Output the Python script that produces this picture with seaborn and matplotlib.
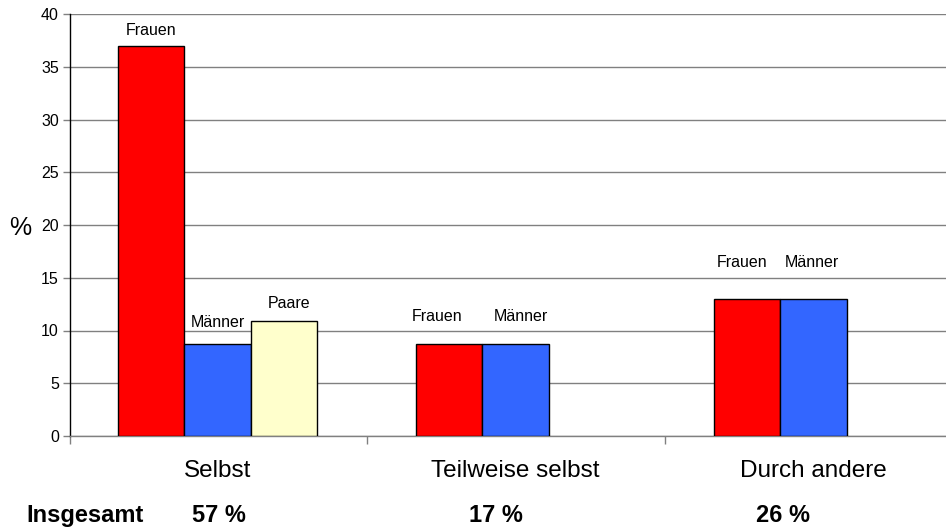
import pandas as pd
import numpy as np
import seaborn as sns
import matplotlib.pyplot as plt

# Daten
kategorien = ["Selbst", "Teilweise selbst", "Durch andere"]
gruppen = ["Frauen", "Männer", "Paare"]
frauen = [37.0, 8.7, 13.0]
maenner = [8.7, 8.7, 13.0]
paare = [10.9]  # nur bei "Selbst"
insgesamt = ["57 %", "17 %", "26 %"]

farben = {"Frauen": "#FF0000", "Männer": "#3366FF", "Paare": "#FFFFCC"}

# Long-Format fuer seaborn
zeilen = []
for k, v in zip(kategorien, frauen):
    zeilen.append({"kategorie": k, "gruppe": "Frauen", "wert": v})
for k, v in zip(kategorien, maenner):
    zeilen.append({"kategorie": k, "gruppe": "Männer", "wert": v})
for k, v in zip(kategorien[:len(paare)], paare):
    zeilen.append({"kategorie": k, "gruppe": "Paare", "wert": v})
df = pd.DataFrame(zeilen)

sns.set_style("white")
plt.rcParams['font.family'] = ['Liberation Sans', 'DejaVu Sans']
plt.rcParams['text.color'] = 'black'
plt.rcParams['axes.labelcolor'] = 'black'
plt.rcParams['xtick.color'] = 'black'
plt.rcParams['ytick.color'] = 'black'

fig = plt.figure(figsize=(9.46, 5.29), dpi=100)
ax = fig.add_axes([70 / 946, 1 - 436 / 529, 894 / 946, 422 / 529])

sns.barplot(data=df, x="kategorie", y="wert", hue="gruppe",
            order=kategorien, hue_order=gruppen, palette=farben,
            saturation=1, width=0.665, edgecolor="black", linewidth=1,
            errorbar=None, legend=False, ax=ax, zorder=3)

ax.set_xlim(-0.495, 2.505)
ax.set_ylim(0, 40)
ax.set_yticks(np.arange(0, 41, 5))
ax.yaxis.grid(True, color="#808080", linewidth=1)
ax.set_axisbelow(True)

for s in ["top", "right"]:
    ax.spines[s].set_visible(False)
ax.spines["left"].set_color("black")
ax.spines["left"].set_linewidth(1)
ax.spines["bottom"].set_color("#808080")
ax.spines["bottom"].set_linewidth(1)

ax.tick_params(axis="y", direction="out", length=5, width=1, color="#808080",
               labelcolor="black", labelsize=11.5, pad=3, left=True)
# Kategorie-Trennstriche
ax.set_xticks([-0.495, 0.5, 1.5], minor=True)
ax.tick_params(axis="x", which="minor", direction="out", length=6, width=1,
               color="#808080", bottom=True)
ax.tick_params(axis="x", which="major", length=0, labelsize=17.5, pad=17,
               labelcolor="black")
ax.set_xlabel("")
ax.set_ylabel("%", rotation=0, fontsize=18, va="center", ha="center")
ax.yaxis.set_label_coords(-0.056, 0.493)

# Beschriftungen ueber den Balken (Abstand in Datenwerten, x-Versatz in Punkten)
abstand = {"Frauen": [1.4, 2.6, 3.4], "Männer": [2.1, 2.6, 3.4], "Paare": [1.7]}
versatz = {"Frauen": [0, -9, -4], "Männer": [0, 4, -1], "Paare": [4]}
for gruppe, cont in zip(gruppen, ax.containers):
    for i, bar in enumerate(cont):
        h = bar.get_height()
        if np.isnan(h) or i >= len(abstand[gruppe]):
            continue
        ax.annotate(gruppe, (bar.get_x() + bar.get_width() / 2, h + abstand[gruppe][i]),
                    xytext=(versatz[gruppe][i], 0), textcoords="offset points",
                    ha="center", va="center", fontsize=11.5, color="black")

# Zeile "Insgesamt"
fig.text(85 / 946, 1 - 522 / 529, "Insgesamt", ha="center", va="baseline",
         fontsize=17, fontweight="bold", color="black")
for xp, t in zip([219, 496, 783], insgesamt):
    fig.text(xp / 946, 1 - 522 / 529, t, ha="center", va="baseline",
             fontsize=17, fontweight="bold", color="black")

fig.savefig("out.png", dpi=100)
